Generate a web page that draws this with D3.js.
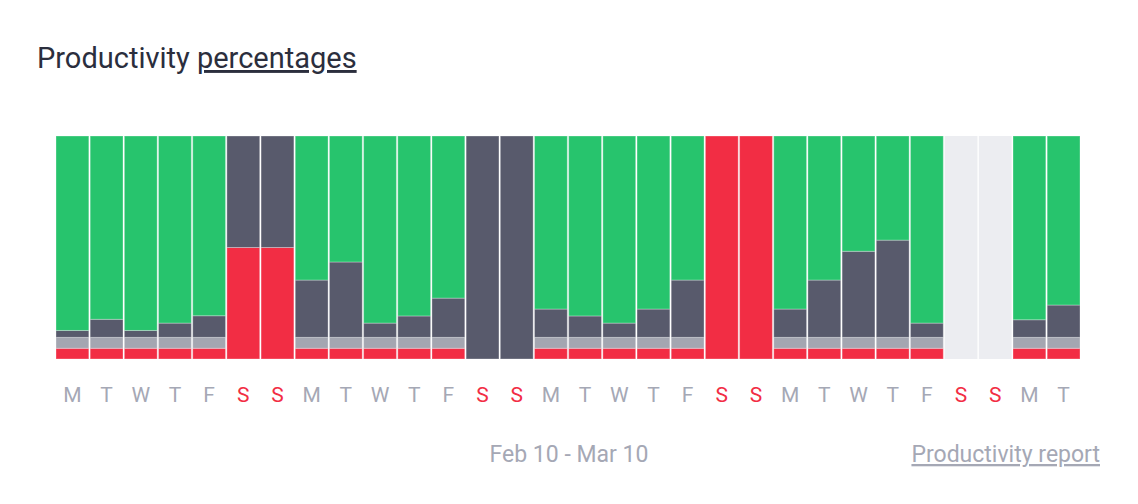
<!DOCTYPE html>
<html>
<head>
<meta charset="utf-8">
<script src="https://cdn.jsdelivr.net/npm/d3@7/dist/d3.min.js"></script>
<style>
  html, body { margin: 0; padding: 0; background: #ffffff; }
  svg { display: block; font-family: Roboto, "Noto Sans", sans-serif; }
</style>
</head>
<body>
<svg id="chart" width="1138" height="504"></svg>
<script>
// ---- data ----
const days = ["M","T","W","T","F","S","S","M","T","W","T","F","S","S","M","T","W","T","F","S","S","M","T","W","T","F","S","S","M","T"];
const offlineVals = [4.8,4.8,4.8,4.8,4.8,50,50,4.8,4.8,4.8,4.8,4.8,0,0,4.8,4.8,4.8,4.8,4.8,100,100,4.8,4.8,4.8,4.8,4.8,0,0,4.8,4.8];
const idleVals    = [4.9,4.9,4.9,4.9,4.9,0,0,4.9,4.9,4.9,4.9,4.9,0,0,4.9,4.9,4.9,4.9,4.9,0,0,4.9,4.9,4.9,4.9,4.9,0,0,4.9,4.9];
const neutralVals = [3.1,8.1,3.1,6.4,9.7,50,50,25.7,33.8,6.4,9.6,17.6,100,100,12.7,9.6,6.4,12.7,25.7,0,0,12.7,25.7,38.6,43.6,6.4,0,0,7.9,14.5];
const productiveVals = [87.2,82.2,87.2,83.9,80.6,0,0,64.6,56.5,83.9,80.7,72.7,0,0,77.6,80.7,83.9,77.6,64.6,0,0,77.6,64.6,51.7,46.7,83.9,0,0,82.4,75.8];
const weekendDays = [5,6,12,13,19,20,26,27];
const seriesKeys = ["offline","idle","neutral","productive"];
const seriesColors = ["#f22d44","#a4a6b1","#585a6c","#27c46d"];

// ---- build table ----
const table = days.map((d, i) => ({
  i, day: d,
  offline: offlineVals[i], idle: idleVals[i], neutral: neutralVals[i], productive: productiveVals[i]
}));

const svg = d3.select("#chart");

const x = d3.scaleBand().domain(d3.range(days.length)).range([56, 1080]).paddingInner(0.04).paddingOuter(0);
const y = d3.scaleLinear().domain([0, 100]).range([359, 136]);
const color = d3.scaleOrdinal().domain(seriesKeys).range(seriesColors);

// title
const title = svg.append("text")
  .attr("x", 37).attr("y", 68)
  .attr("font-size", 29).attr("fill", "#2b2e3d");
title.append("tspan").text("Productivity ");
title.append("tspan").attr("text-decoration", "underline").text("percentages");

// empty background per day
svg.append("g").selectAll("rect").data(table).join("rect")
  .attr("x", d => x(d.i)).attr("width", x.bandwidth())
  .attr("y", y(100)).attr("height", y(0) - y(100))
  .attr("fill", "#ecedf1");

// stacked bars
const stacked = d3.stack().keys(seriesKeys)(table);
svg.append("g").selectAll("g").data(stacked).join("g")
  .attr("fill", s => color(s.key))
  .selectAll("rect").data(s => s.filter(p => p[1] - p[0] > 0)).join("rect")
  .attr("x", p => x(p.data.i))
  .attr("width", x.bandwidth())
  .attr("y", p => y(p[1]))
  .attr("height", p => y(p[0]) - y(p[1]))
  .attr("stroke", "rgba(255,255,255,0.3)")
  .attr("stroke-width", 1);

// day axis
const xAxis = d3.axisBottom(x).tickSize(0).tickPadding(0).tickFormat(i => days[i]);
const ax = svg.append("g").attr("transform", "translate(0,387)").call(xAxis);
ax.select(".domain").remove();
ax.selectAll("text")
  .attr("font-size", 21)
  .attr("font-family", "Roboto, sans-serif")
  .attr("dy", "0.71em")
  .attr("fill", i => weekendDays.includes(i) ? "#f22d44" : "#a5a8b5");

// footer
svg.append("text")
  .attr("x", 569).attr("y", 462)
  .attr("text-anchor", "middle")
  .attr("font-size", 23).attr("fill", "#a5a8b5")
  .text("Feb 10 - Mar 10");

svg.append("text")
  .attr("x", 1100).attr("y", 462)
  .attr("text-anchor", "end")
  .attr("font-size", 23).attr("fill", "#a5a8b5")
  .attr("text-decoration", "underline")
  .text("Productivity report");
</script>
</body>
</html>
